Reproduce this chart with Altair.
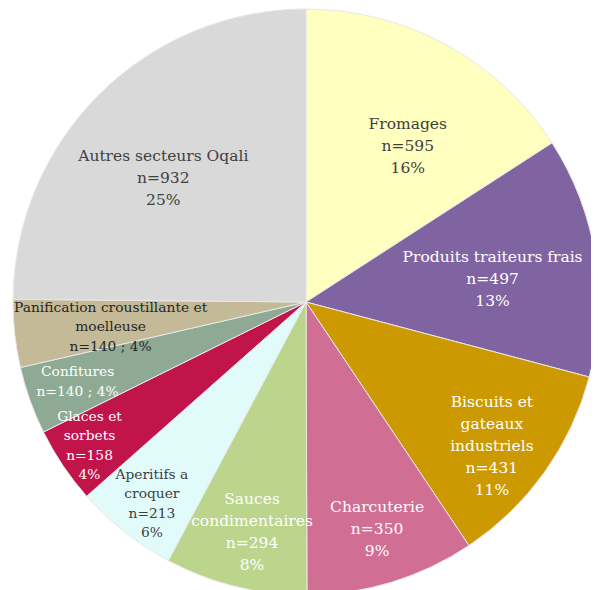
import altair as alt
import pandas as pd

categories = ["Fromages", "Produits traiteurs frais", "Biscuits et gateaux industriels",
              "Charcuterie", "Sauces condimentaires", "Aperitifs a croquer",
              "Glaces et sorbets", "Confitures", "Panification croustillante et moelleuse",
              "Autres secteurs Oqali"]
counts = [595, 497, 431, 350, 294, 213, 158, 140, 140, 932]
percents = ["16%", "13%", "11%", "9%", "8%", "6%", "4%", "4%", "4%", "25%"]
label_lines = [
    ["Fromages", "n=595", "16%"],
    ["Produits traiteurs frais", "n=497", "13%"],
    ["Biscuits et", "gateaux", "industriels", "n=431", "11%"],
    ["Charcuterie", "n=350", "9%"],
    ["Sauces", "condimentaires", "n=294", "8%"],
    ["Aperitifs a", "croquer", "n=213", "6%"],
    ["Glaces et", "sorbets", "n=158", "4%"],
    ["Confitures", "n=140 ; 4%"],
    ["Panification croustillante et", "moelleuse", "n=140 ; 4%"],
    ["Autres secteurs Oqali", "n=932", "25%"],
]
colors = ["#FFFFBF", "#8064A2", "#CC9900", "#D16E94", "#BBD58C",
          "#E1FBFB", "#C0144A", "#8FAA94", "#C4BA97", "#D9D9D9"]
text_colors = ["#404040", "#FFFFFF", "#FFFFFF", "#FFFFFF", "#FFFFFF",
               "#404040", "#FFFFFF", "#FFFFFF", "#262626", "#404040"]
# label placement (style): radius in px and angular offset in degrees from slice middle
label_radius = [186, 188, 235, 238, 236, 254, 260, 242, 197, 189]
label_angle_offset = [4.6, 2.0, 2.2, -0.4, -0.7, -0.9, 0.3, 0.3, -1.1, -4.3]
small_label = [False, False, False, False, False, True, True, True, True, False]

BIG_FS, BIG_LH = 15.5, 22
SMALL_FS, SMALL_LH = 13.8, 19.5

df = pd.DataFrame({
    "cat": categories,
    "n": counts,
    "idx": list(range(len(categories))),
    "label": ["\n".join(l) for l in label_lines],
    "nlines": [len(l) for l in label_lines],
    "tcol": text_colors,
    "lr": label_radius,
    "aoff": label_angle_offset,
    "small": small_label,
    "lh": [SMALL_LH if s else BIG_LH for s in small_label],
})

CX, CY = 298, 294
R = 293

arcs = alt.Chart(df).mark_arc(outerRadius=R, stroke="#E8E8E8", strokeWidth=1).encode(
    theta=alt.Theta("n:Q", stack=True),
    order=alt.Order("idx:Q"),
    color=alt.Color("cat:N", scale=alt.Scale(domain=categories, range=colors), legend=None),
    x=alt.value(CX), y=alt.value(CY),
)

text_base = alt.Chart(df).transform_joinaggregate(
    total="sum(n)"
).transform_window(
    cum="sum(n)", sort=[alt.SortField("idx")], frame=[None, 0]
).transform_calculate(
    ang="(datum.cum - datum.n / 2) / datum.total * 2 * PI + datum.aoff * PI / 180"
).transform_calculate(
    px=f"{CX} + datum.lr * sin(datum.ang)",
    py=f"{CY} - datum.lr * cos(datum.ang) - (datum.nlines - 1) / 2 * datum.lh",
)

def text_layer(is_small, fs, lh):
    return text_base.transform_filter(
        alt.datum.small == is_small
    ).mark_text(font="DejaVu Serif", fontSize=fs, lineBreak="\n",
                lineHeight=lh, align="center", baseline="middle").encode(
        text="label:N",
        x=alt.X("px:Q", scale=None),
        y=alt.Y("py:Q", scale=None),
        color=alt.Color("tcol:N", scale=None),
    )

chart = alt.layer(
    arcs,
    text_layer(False, BIG_FS, BIG_LH),
    text_layer(True, SMALL_FS, SMALL_LH),
).properties(
    width=583, height=582, padding=0,
    autosize=alt.AutoSizeParams(type="none"),
).configure_view(stroke=None)

chart.save("out.html", embed_options={"renderer": "svg", "actions": False})
